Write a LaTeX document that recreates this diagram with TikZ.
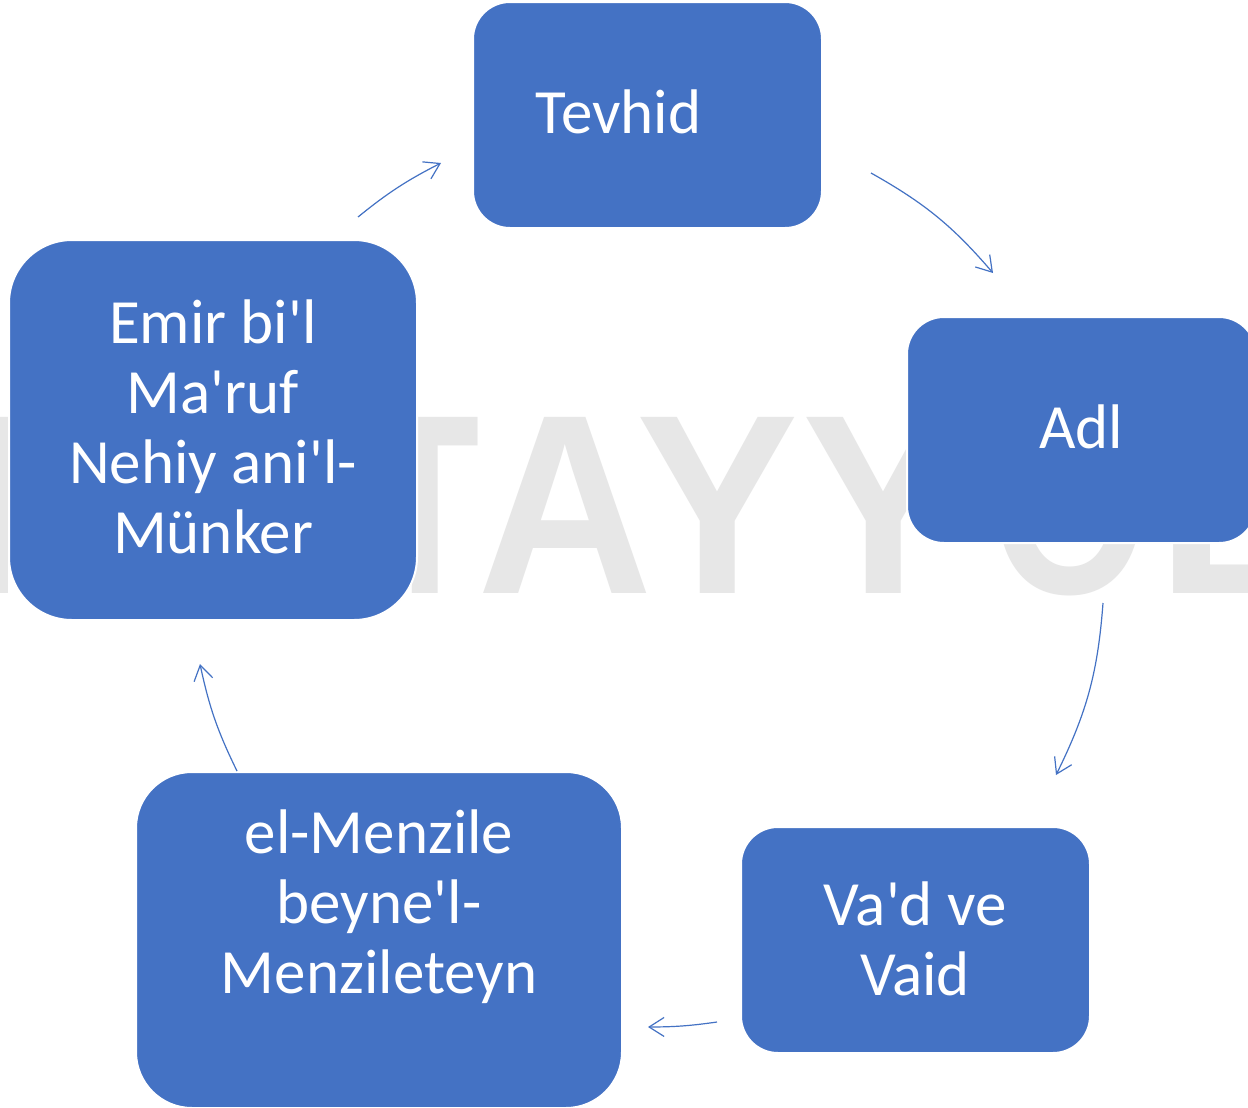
\documentclass[tikz,border=0pt]{standalone}
\usepackage{fontspec}
\newfontfamily\boxfont{Carlito}
\newfontfamily\wmfont{Liberation Sans}
\usetikzlibrary{arrows.meta}
\definecolor{boxblue}{HTML}{4472C4}
\definecolor{wmgray}{HTML}{E7E7E7}
\begin{document}
\begin{tikzpicture}[x=0.5pt,y=-0.5pt,
  box/.style={draw=white, line width=1pt, fill=boxblue, inner sep=0pt},
  lbl/.style={text=white, font=\boxfont\fontsize{31.5}{35}\selectfont, align=center, anchor=base, inner sep=0pt},
  cyc/.style={draw=boxblue, line width=0.6pt, -{Straight Barb[length=7.5pt,width=9.5pt]}},
  wm/.style={text=wmgray, font=\wmfont\bfseries\fontsize{128}{128}\selectfont, anchor=base, inner sep=0pt}]
\clip (0,0) rectangle (1248,1108);
\fill[white] (0,0) rectangle (1248,1108);
% watermark
\node[wm] (w0) at (-10,593) {I};
\node[wm] (w1) at (425,593) {\scalebox{0.7}[1]{T}};
\node[wm] (w2) at (565,593) {\scalebox{0.95}[1]{A}};
\node[wm] (w3) at (718,593) {\scalebox{0.95}[1]{Y}};
\node[wm] (w4) at (884,593) {\scalebox{0.95}[1]{Y}};
\node[wm] (w5) at (1070,593) {\scalebox{0.8}[1]{O}};
\node[wm] (w6) at (1235,593) {L};
% boxes
\node[box, rounded corners=18.5pt, minimum width=174.5pt, minimum height=113pt] (tev) at (647.5,115) {};
\node[box, rounded corners=18.5pt, minimum width=174.5pt, minimum height=113pt] (adl) at (1081.5,430) {};
\node[box, rounded corners=18.5pt, minimum width=174.5pt, minimum height=113pt] (vad) at (915.5,940) {};
\node[box, rounded corners=28pt, minimum width=243pt, minimum height=168pt] (men) at (379,940) {};
\node[box, rounded corners=31.5pt, minimum width=204pt, minimum height=190pt] (emr) at (213,430) {};
% labels (anchor base = baseline of last line)
\node[lbl] (ttev) at (618.5,133) {Tevhid};
\node[lbl] (tadl) at (1081,448) {Adl};
\node[lbl] (tvad) at (915,995) {Va'd ve\\Vaid};
\node[lbl] (tmen) at (379,993) {el-Menzile\\beyne'l-\\Menzileteyn};
\node[lbl] (temr) at (213,553) {Emir bi'l\\Ma'ruf\\Nehiy ani'l-\\Münker};
% cycle arrows
\coordinate (a1s) at (358,217); \coordinate (a1e) at (441,163);
\coordinate (a2s) at (871,173); \coordinate (a2e) at (993,273);
\coordinate (a3s) at (1103,603); \coordinate (a3e) at (1056,775);
\coordinate (a4s) at (717,1022); \coordinate (a4e) at (648,1027);
\coordinate (a5s) at (237,771); \coordinate (a5e) at (200,664);
\draw[cyc] (a1s) to[bend left=6] (a1e);
\draw[cyc] (a2s) to[bend left=10] (a2e);
\draw[cyc] (a3s) to[bend left=11] (a3e);
\draw[cyc] (a4s) to[bend left=4] (a4e);
\draw[cyc] (a5s) to[bend left=7] (a5e);
\end{tikzpicture}
\end{document}
